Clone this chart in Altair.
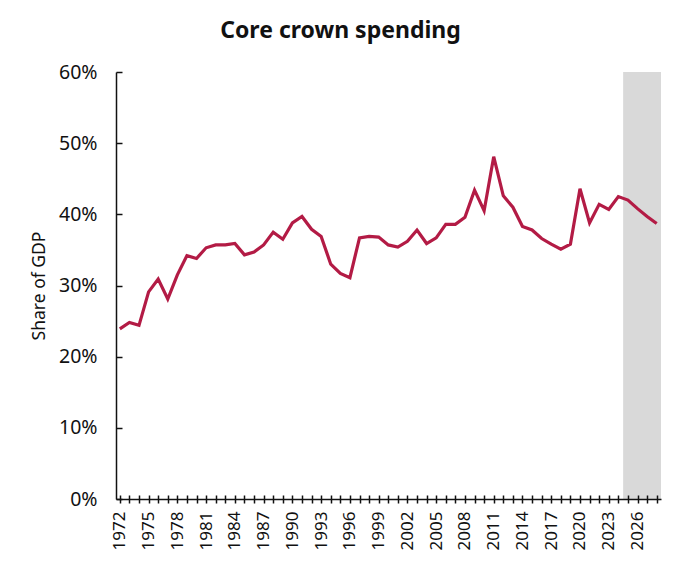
import altair as alt
import pandas as pd

years = list(range(1972, 2029))
share = [23.9, 24.8, 24.4, 29.1, 30.9, 28.1, 31.5, 34.2, 33.8, 35.3,
         35.7, 35.7, 35.9, 34.3, 34.7, 35.7, 37.5, 36.5, 38.8, 39.7,
         37.9, 36.9, 33.0, 31.7, 31.1, 36.7, 36.9, 36.8, 35.7, 35.4,
         36.2, 37.8, 35.9, 36.7, 38.6, 38.6, 39.6, 43.4, 40.5, 48.1,
         42.6, 41.0, 38.3, 37.8, 36.6, 35.8, 35.1, 35.8, 43.6, 38.8,
         41.4, 40.7, 42.5, 42.0, 40.8, 39.7, 38.7]
forecast_start = [2024.5]
forecast_end = [2028.45]

df = pd.DataFrame({"year": years, "share": [v / 100 for v in share]})
shade = pd.DataFrame({"x": forecast_start, "x2": forecast_end})

FONT = "Noto Sans"
INK = "#111111"
x_dom = [1971.6, 2028.45]
x_scale = alt.Scale(domain=x_dom, nice=False, zero=False)
y_scale = alt.Scale(domain=[0, 0.6], nice=False)
y_vals = [0, 0.1, 0.2, 0.3, 0.4, 0.5, 0.6]
label_expr = "(datum.value - 1972) % 3 == 0 ? format(datum.value, 'd') : ''"

# Shaded forecast band; its axes only draw the inward-pointing ticks.
band = alt.Chart(shade).mark_rect(color="#D9D9D9").encode(
    x=alt.X("x:Q", scale=x_scale, axis=alt.Axis(
        orient="bottom", values=years, labels=False, domain=False, grid=False,
        title=None, tickSize=4, tickColor=INK, tickWidth=1.5, offset=-4,
        zindex=1)),
    x2="x2:Q",
    y=alt.Y("share_lo:Q", scale=y_scale, axis=alt.Axis(
        orient="left", values=y_vals, labels=False, domain=False, grid=False,
        title=None, tickSize=6, tickColor=INK, tickWidth=1.5, offset=-6,
        zindex=1)),
).transform_calculate(share_lo="0", share_hi="0.6").encode(y2="share_hi:Q")

line = alt.Chart(df).mark_line(color="#B31B45", strokeWidth=3.2).encode(
    x=alt.X("year:Q", scale=x_scale, axis=alt.Axis(
        orient="bottom", values=years, labelExpr=label_expr, labelAngle=-90,
        labelAlign="right", labelBaseline="middle", labelFontSize=17,
        labelColor=INK, labelPadding=8, tickSize=4, tickColor=INK,
        tickWidth=1.5, domainColor=INK, domainWidth=1.5, grid=False,
        title=None, labelFont=FONT, labelOverlap=False, labelBound=False,
        labelFlush=False, zindex=1)),
    y=alt.Y("share:Q", scale=y_scale, axis=alt.Axis(
        orient="left", values=y_vals, format=".0%",
        labelFontSize=19.5, labelColor=INK, labelFont=FONT, labelPadding=19,
        ticks=False, domainColor=INK, domainWidth=1.5, grid=False,
        title="Share of GDP", titleFont=FONT, titleFontSize=17.5,
        titleFontWeight="normal", titleColor=INK, titlePadding=10,
        labelFlush=False, zindex=1)),
)

chart = alt.layer(band, line).resolve_axis(
    x="independent", y="independent"
).properties(
    width=545, height=427,
    autosize=alt.AutoSizeParams(type="none"),
    padding={"left": 108, "top": 64, "right": 11, "bottom": 64},
    title=alt.TitleParams("Core crown spending", font=FONT, fontSize=23,
                          fontWeight="bold", color=INK, anchor="middle",
                          dx=-48, offset=19),
).configure_view(stroke=None)

chart.save("out.html", embed_options={"renderer": "svg", "actions": False})
